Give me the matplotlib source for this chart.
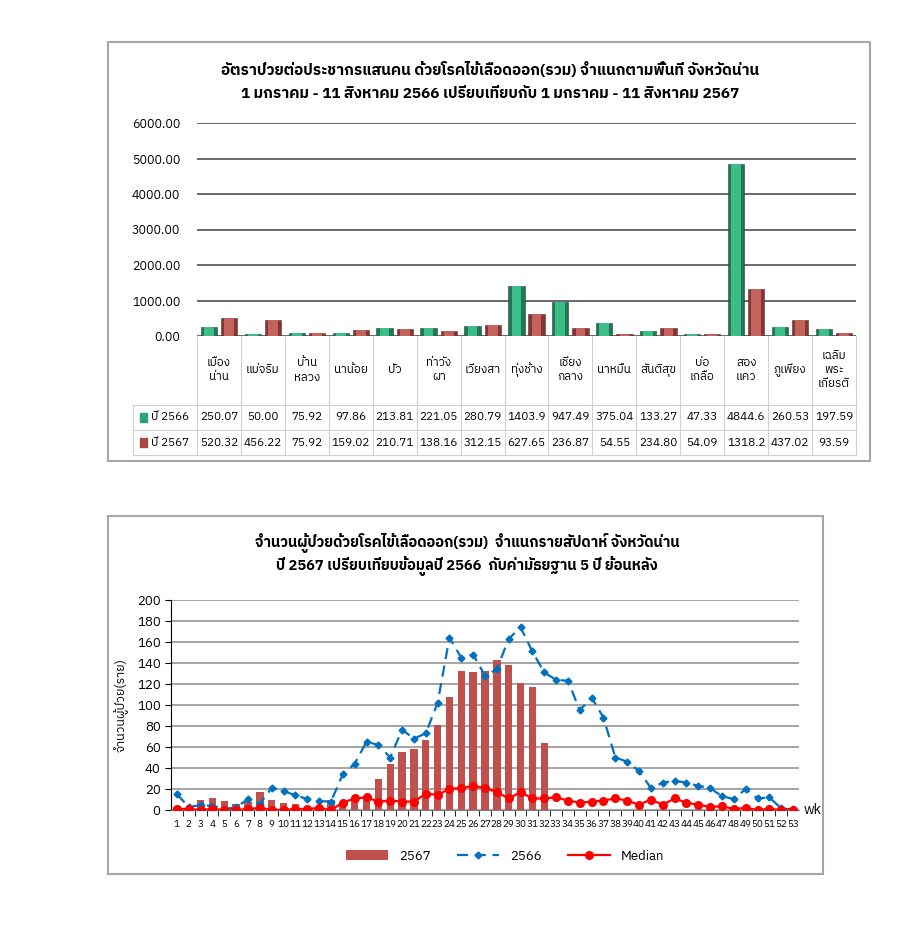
#!/usr/bin/env python3
import numpy as np
import matplotlib
matplotlib.use("Agg")
from matplotlib import pyplot as plt
from matplotlib import font_manager
from matplotlib.patches import Rectangle

# pick a font that has Thai glyphs
names = sorted({f.name for f in font_manager.fontManager.ttflist})
thai = [n for n in names if 'Thai' in n and 'Looped' not in n] + [n for n in names if 'Thai' in n]
for n in ['Tahoma', 'Loma', 'Garuda', 'Sarabun', 'Kinnari', 'Waree', 'Norasi']:
    if n in names:
        thai.append(n)
plt.rcParams['font.family'] = thai[:1] + ['DejaVu Sans']

# ---- data: rate per 100,000 by district ----
districts = ['เมือง\nน่าน', 'แม่จริม', 'บ้าน\nหลวง', 'นาน้อย', 'ปัว', 'ท่าวัง\nผา', 'เวียงสา',
             'ทุ่งช้าง', 'เชียง\nกลาง', 'นาหมื่น', 'สันติสุข', 'บ่อ\nเกลือ', 'สอง\nแคว',
             'ภูเพียง', 'เฉลิม\nพระ\nเกียรติ']
rate_2566 = [250.07, 50.00, 75.92, 97.86, 213.81, 221.05, 280.79, 1403.9, 947.49,
             375.04, 133.27, 47.33, 4844.6, 260.53, 197.59]
rate_2567 = [520.32, 456.22, 75.92, 159.02, 210.71, 138.16, 312.15, 627.65, 236.87,
             54.55, 234.80, 54.09, 1318.2, 437.02, 93.59]

# ---- data: weekly cases ----
weeks = list(range(1, 54))
cases_2567 = [3, 1, 10, 11, 9, 6, 8, 17, 10, 7, 6, 2, 2, 10, 8, 11, 12, 30, 44, 55, 58, 67,
              81, 108, 132, 131, 132, 143, 138, 121, 117, 64]
cases_2566 = [15, 3, 4.5, 4, 1, 2.5, 10.5, 6, 21, 18, 14, 10.5, 8.5, 8, 34, 44, 65, 62, 50,
              76.5, 68, 73, 102, 164, 145, 148, 128, 134, 163, 174, 151, 131, 124, 123,
              95, 107, 88, 50, 46, 37, 21, 26, 28, 26, 23, 21, 13, 10.5, 20, 11, 12, 1.5, 0.5]
median5 = [1, 1, 0, 1, 0, 0, 1, 2, 0, 0, 1, 1, 2, 0, 7, 11, 12, 8, 9, 8, 8, 15.5, 14.5,
           20, 21, 23, 21, 17, 11, 17, 11, 11, 12, 9, 7, 8, 9, 11, 9, 5, 10, 5, 11, 7, 5,
           3, 3.5, 1, 2, 0, 1, 0, 0]

W, H = 900, 931
fig = plt.figure(figsize=(9, 9.31), dpi=100)

def fx(px):
    return px / W

def fy(py):
    return 1 - py / H

# frames around both charts
fig.add_artist(Rectangle((fx(108), fy(461)), fx(762), (461 - 42) / H, transform=fig.transFigure,
                         fill=False, edgecolor='#a6a6a6', lw=1.5))
fig.add_artist(Rectangle((fx(108), fy(874)), fx(715), (874 - 516) / H, transform=fig.transFigure,
                         fill=False, edgecolor='#a6a6a6', lw=1.5))

# ================= top chart =================
ax = fig.add_axes([fx(197), fy(336), fx(856 - 197), (336 - 123) / H])
x = np.arange(len(districts))
bw = 0.37
for vals, off, dark, light in [(rate_2566, -0.23, '#1c7a53', '#3cbd8a'),
                               (rate_2567, 0.23, '#8a3431', '#c4625e')]:
    ax.bar(x + off, vals, width=bw, color=dark, edgecolor='#3a3a3a', linewidth=0.4, zorder=3)
    ax.bar(x + off, vals, width=bw * 0.6, color=light, linewidth=0, zorder=4)
ax.set_xlim(-0.5, len(districts) - 0.5)
ax.set_ylim(0, 6000)
ax.set_yticks(np.arange(0, 6001, 1000))
ax.set_yticklabels([f'{v:.2f}' for v in np.arange(0, 6001, 1000)], fontsize=9)
ax.yaxis.grid(True, color='#404040', lw=1.1, zorder=0)
ax.set_xticks([])
ax.tick_params(axis='y', length=0, pad=12)
for s in ax.spines.values():
    s.set_visible(False)
fig.text(fx(490), fy(70), 'อัตราป่วยต่อประชากรแสนคน ด้วยโรคไข้เลือดออก(รวม) จำแนกตามพื้นที่ จังหวัดน่าน',
         ha='center', va='center', fontsize=11, fontweight='bold')
fig.text(fx(490), fy(94), '1 มกราคม - 11 สิงหาคม 2566 เปรียบเทียบกับ 1 มกราคม - 11 สิงหาคม 2567',
         ha='center', va='center', fontsize=11, fontweight='bold')

# data table under the bars
tb = fig.add_axes([fx(197), fy(455), fx(856 - 197), (455 - 336) / H])
tb.set_xlim(-0.5, len(districts) - 0.5)
tb.set_ylim(119, 0)
tb.axis('off')
gc = '#d0d0d0'
for i in range(len(districts) + 1):
    tb.plot([i - 0.5, i - 0.5], [0, 119], color=gc, lw=0.8, clip_on=False)
lx = -0.5 - 64 / 43.9
for yy in [69, 94, 119]:
    tb.plot([lx, len(districts) - 0.5], [yy, yy], color=gc, lw=0.8, clip_on=False)
tb.plot([lx, lx], [69, 119], color=gc, lw=0.8, clip_on=False)
for i, name in enumerate(districts):
    tb.text(i, 34, name, ha='center', va='center', fontsize=8.5, linespacing=1.55)
    tb.text(i, 81.5, f'{rate_2566[i]:.2f}'[:6], ha='center', va='center', fontsize=8.5)
    tb.text(i, 106.5, f'{rate_2567[i]:.2f}'[:6], ha='center', va='center', fontsize=8.5)
for yy, lab, c in [(81.5, 'ปี 2566', '#2ea374'), (106.5, 'ปี 2567', '#a84844')]:
    tb.add_patch(Rectangle((lx + 0.15, yy - 4.5), 0.18, 9, color=c, clip_on=False))
    tb.text(lx + 0.42, yy, lab, ha='left', va='center', fontsize=8.5, clip_on=False)

# ================= bottom chart =================
bx = fig.add_axes([fx(171), fy(810), fx(799 - 171), (810 - 600) / H])
bars = bx.bar(weeks[:len(cases_2567)], cases_2567, width=0.62, color='#c0504d', zorder=2, label='2567')
l1, = bx.plot(weeks, cases_2566, color='#0070c0', lw=1.6, ls=(0, (5, 3)), marker='D', ms=3.5,
              zorder=3, label='2566')
l2, = bx.plot(weeks, median5, color='#ff0000', lw=1.6, marker='o', ms=5.5, zorder=4, label='Median')
bx.set_xlim(0.5, 53.5)
bx.set_ylim(0, 200)
bx.set_yticks(range(0, 201, 20))
bx.tick_params(axis='y', labelsize=9.5, direction='out', length=4)
bx.set_xticks(weeks)
bx.set_xticklabels([str(w) for w in weeks], fontsize=7.2)
bx.set_xticks(np.arange(1.5, 53, 1), minor=True)
bx.tick_params(axis='x', which='major', length=0, pad=7)
bx.tick_params(axis='x', which='minor', length=4, direction='out')
bx.yaxis.grid(True, color='#8c8c8c', lw=1.1, zorder=0)
for s in ['top', 'right']:
    bx.spines[s].set_visible(False)
bx.spines['bottom'].set_color('#7f7f7f')
bx.set_ylabel('จำนวนผู้ป่วย(ราย)', fontsize=9)
bx.yaxis.set_label_coords(-0.068, 0.5)
bx.text(53.9, 0, 'wk', ha='left', va='center', fontsize=10)
fig.text(fx(467), fy(543), 'จำนวนผู้ป่วยด้วยโรคไข้เลือดออก(รวม)  จำแนกรายสัปดาห์ จังหวัดน่าน',
         ha='center', va='center', fontsize=10.5, fontweight='bold')
fig.text(fx(467), fy(566), 'ปี 2567 เปรียบเทียบข้อมูลปี 2566  กับค่ามัธยฐาน 5 ปี ย้อนหลัง',
         ha='center', va='center', fontsize=10.5, fontweight='bold')
fig.legend(handles=[bars, l1, l2], loc='center', bbox_to_anchor=(fx(505), fy(856)), ncol=3,
           frameon=False, fontsize=9.5, handlelength=3.2, columnspacing=2.0)

fig.savefig('out.png', dpi=100)
